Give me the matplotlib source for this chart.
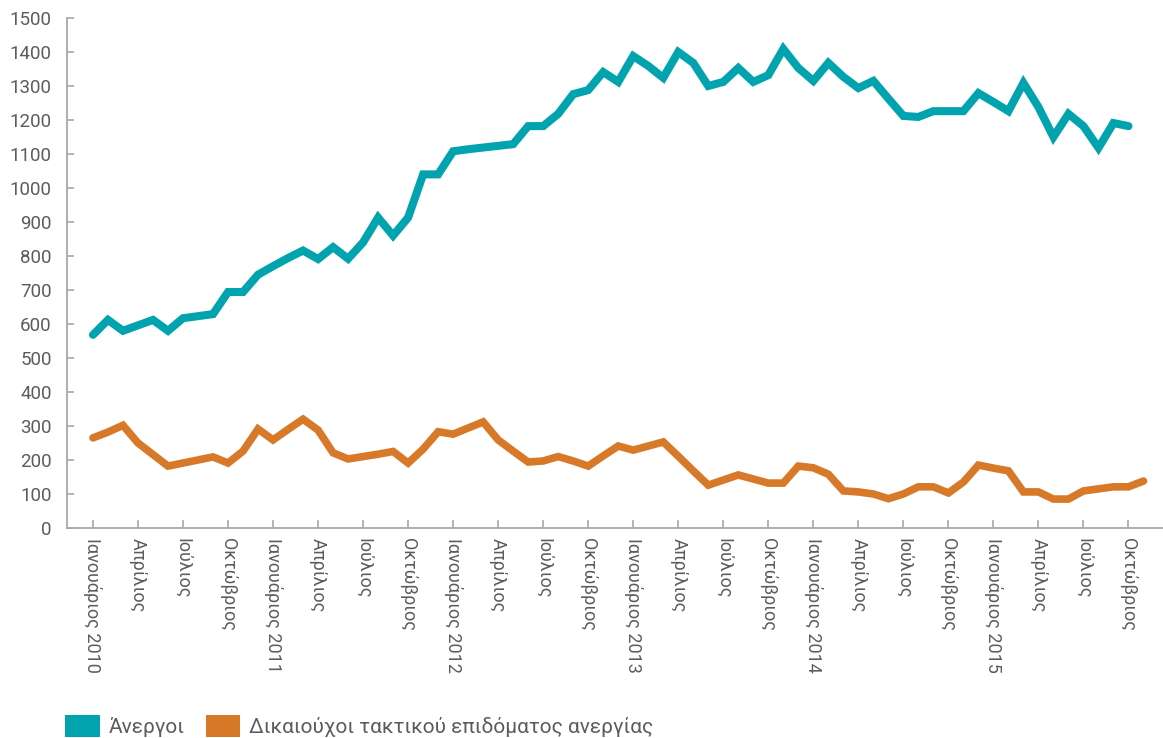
import numpy as np
import matplotlib
matplotlib.use("Agg")
import matplotlib.pyplot as plt
from matplotlib.patches import Patch

plt.rcParams['font.family'] = ['Roboto', 'DejaVu Sans']

# monthly data, Jan 2010 - Nov 2015
years = [2010, 2011, 2012, 2013, 2014, 2015]
quarter_names = ["Ιανουάριος", "Απρίλιος", "Ιούλιος", "Οκτώβριος"]

anergoi = [568, 612, 580, 596, 612, 580, 617, 623, 629, 694, 694, 745,
           770, 794, 816, 791, 826, 792, 840, 913, 860, 913, 1040, 1040,
           1108, 1114, 1119, 1124, 1129, 1182, 1182, 1218, 1276, 1288, 1341, 1312,
           1388, 1359, 1324, 1400, 1368, 1300, 1312, 1353, 1312, 1332, 1409, 1353,
           1315, 1368, 1327, 1294, 1315, 1263, 1212, 1209, 1226, 1226, 1226, 1279,
           1253, 1226, 1309, 1238, 1150, 1218, 1182, 1118, 1191, 1182, np.nan]

dikaiouxoi = [265, 282, 302, 250, 216, 182, 191, 200, 209, 191, 226, 291,
              259, 290, 320, 288, 221, 203, 210, 217, 225, 191, 232, 283,
              276, 294, 312, 259, 226, 194, 197, 210, 197, 182, 212, 241,
              229, 241, 253, 211, 168, 126, 141, 156, 144, 132, 132, 182,
              177, 158, 109, 106, 100, 86, 100, 121, 121, 103, 135, 185,
              176, 168, 106, 106, 85, 85, 109, 115, 121, 121, 138]

teal = '#00a3ae'
orange = '#d8792a'
grey_txt = '#5c5c5c'
grey_ax = '#a8a8a8'

months = np.arange(len(dikaiouxoi))

fig = plt.figure(figsize=(11.63, 7.38), dpi=100)
ax = fig.add_axes([0.0576, 0.2846, 0.9424, 0.691])

ax.plot(months, anergoi, color=teal, lw=5.8, solid_capstyle='round', solid_joinstyle='miter')
ax.plot(months, dikaiouxoi, color=orange, lw=5.5, solid_capstyle='round', solid_joinstyle='miter')

ax.set_ylim(0, 1500)
ax.set_yticks(range(0, 1501, 100))
ax.set_xlim(-1.73, 71.3)

tick_pos = list(range(0, 70, 3))
tick_lab = []
for p in tick_pos:
    q = (p % 12) // 3
    if q == 0:
        tick_lab.append(f"{quarter_names[0]} {years[p // 12]}")
    else:
        tick_lab.append(quarter_names[q])
ax.set_xticks(tick_pos)
ax.set_xticklabels(tick_lab, rotation=270, va='top', ha='center')

for s in ['top', 'right']:
    ax.spines[s].set_visible(False)
for s in ['left', 'bottom']:
    ax.spines[s].set_color(grey_ax)
    ax.spines[s].set_linewidth(1.3)

ax.tick_params(axis='y', direction='in', length=5, width=1.2, color=grey_ax,
               labelsize=13.5, labelcolor=grey_txt, pad=11)
ax.tick_params(axis='x', direction='in', length=5.5, width=1.2, color=grey_ax,
               labelsize=13, labelcolor=grey_txt, pad=7)

handles = [Patch(facecolor=teal, edgecolor='none', label='Άνεργοι'),
           Patch(facecolor=orange, edgecolor='none', label='Δικαιούχοι τακτικού επιδόματος ανεργίας')]
leg = fig.legend(handles=handles, loc='lower left', bbox_to_anchor=(0.056, 0.001),
                 ncol=2, frameon=False, fontsize=15, borderaxespad=0, borderpad=0,
                 handlelength=1.65, handleheight=1.3, handletextpad=0.45, columnspacing=1.0)
for t in leg.get_texts():
    t.set_color(grey_txt)

fig.savefig('out.png', dpi=100)
